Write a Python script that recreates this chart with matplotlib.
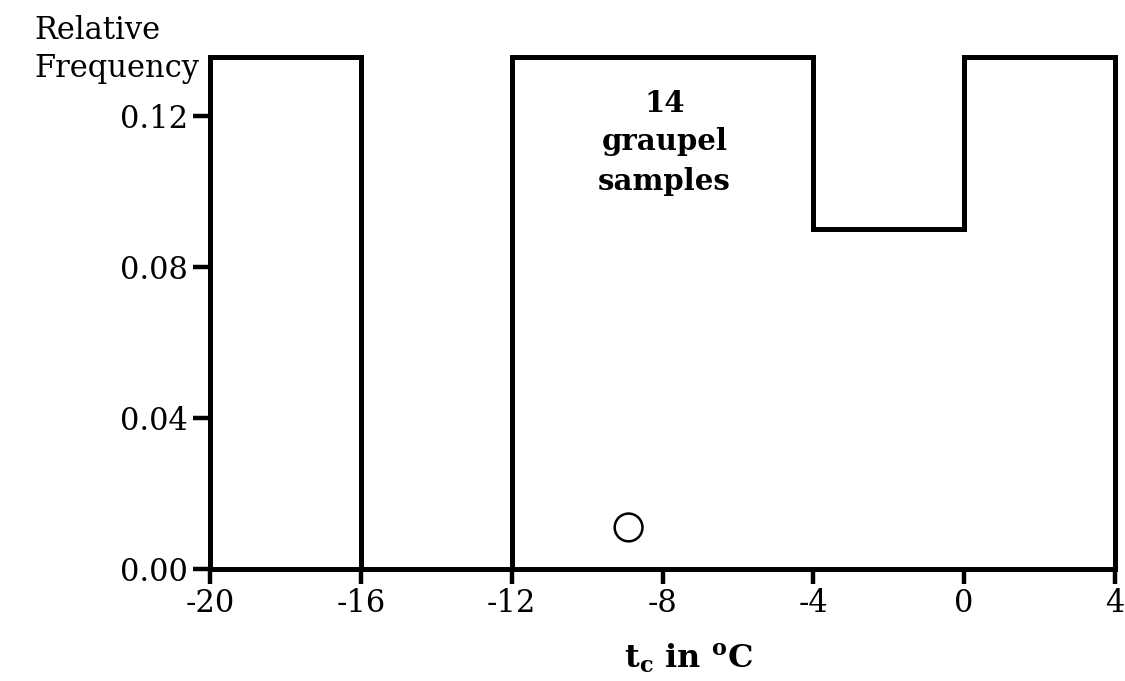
import matplotlib
matplotlib.use("Agg")
import matplotlib.pyplot as plt

# Histogram of cloud temperature for the graupel samples
bin_edges = [-20, -16, -12, -8, -4, 0, 4]
rel_freq = [0.1356, 0.0, 0.1356, 0.1356, 0.090, 0.1356]

y_ticks = [0.00, 0.04, 0.08, 0.12]
y_tick_labels = ["0.00", "0.04", "0.08", "0.12"]
x_ticks = [-20, -16, -12, -8, -4, 0, 4]
x_tick_labels = ["-20", "-16", "-12", "-8", "-4", "0", "4"]

note_lines = ["14", "graupel", "samples"]

# open circle marker inside the plot
marker_x = [-8.9]
marker_y = [0.011]

plt.rcParams["font.family"] = ["DejaVu Serif"]
plt.rcParams["mathtext.fontset"] = "dejavuserif"

fig = plt.figure(figsize=(11.25, 6.81), dpi=100)
ax = fig.add_axes([0.1867, 0.1645, 0.8044, 0.776])

ax.stairs(rel_freq, bin_edges, baseline=0, fill=False,
          color="black", linewidth=3.6, clip_on=False)
ax.scatter(marker_x, marker_y, s=400, facecolors="none",
           edgecolors="black", linewidths=1.8, zorder=3)

ax.set_xlim(-20, 4)
ax.set_ylim(0, 0.14)

ax.spines["top"].set_visible(False)
ax.spines["right"].set_visible(False)
ax.spines["left"].set_linewidth(3.6)
ax.spines["bottom"].set_linewidth(3.6)
ax.spines["left"].set_bounds(0, 0.1356)

ax.set_yticks(y_ticks)
ax.set_yticklabels(y_tick_labels)
ax.set_xticks(x_ticks)
ax.set_xticklabels(x_tick_labels)
ax.tick_params(axis="y", direction="out", length=12, width=3.2,
               labelsize=22, pad=4)
ax.tick_params(axis="x", direction="out", length=11, width=3.2,
               labelsize=22, pad=3)

# annotation inside the -12..-4 block, one line at a time
for line, y in zip(note_lines, [0.1211, 0.1110, 0.1004]):
    ax.text(-7.95, y, line, ha="center", va="baseline",
            fontsize=21, fontweight="bold")

fig.text(0.031, 0.9427, "Relative", fontsize=22, ha="left", va="baseline")
fig.text(0.031, 0.887, "Frequency", fontsize=22, ha="left", va="baseline")

fig.text(0.612, 0.019, r"t$_{\mathbf{c}}$ in $^{\mathbf{o}}$C",
         fontsize=23, fontweight="bold", ha="center", va="baseline")

fig.savefig("out.png", dpi=100, facecolor="white")
